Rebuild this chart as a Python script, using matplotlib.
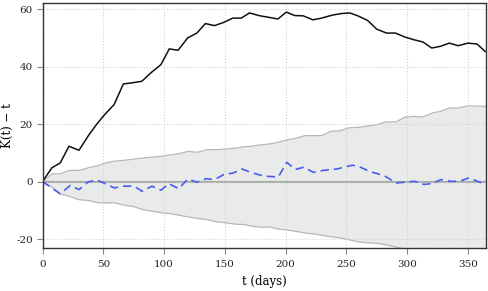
import matplotlib
matplotlib.use('Agg')
import matplotlib.pyplot as plt

# observed curve K(t) - t
obs_t = [0, 7.7, 14.6, 21.7, 30, 38.2, 45, 51.5, 58.9, 66.5, 74, 81.7, 89, 97.4, 104.3,
         111.5, 119.4, 127, 134, 141.5, 149, 156.5, 163.5, 170.3, 179, 186, 193.7, 200.6,
         207.5, 214.5, 222.5, 229.5, 239, 246, 252.8, 259.5, 267.5, 274.9, 283, 290.5,
         298.3, 305.5, 313, 320.3, 327.5, 334.8, 342, 350, 357.5, 364.3]
obs_v = [0, 4.8, 6.5, 12.3, 10.9, 16.3, 20.2, 23.5, 26.8, 34.0, 34.4, 34.9, 37.8, 40.7, 46.2,
         45.7, 50.0, 51.7, 55.0, 54.3, 55.4, 56.9, 56.9, 58.7, 57.7, 57.2, 56.6, 59.0,
         57.8, 57.7, 56.3, 56.9, 58.0, 58.5, 58.7, 57.7, 56.1, 53.1, 51.7, 51.7,
         50.3, 49.4, 48.6, 46.5, 47.1, 48.2, 47.3, 48.2, 47.9, 45.3]

# simulated mean
sim_t = [0, 7.5, 14.6, 22.9, 30, 37.6, 45, 52, 59, 67, 75.4, 82, 90, 97.5, 104, 112,
         119.5, 127, 134.5, 141.5, 149, 157, 164, 173, 182, 194, 201, 208, 215, 223, 231,
         242.5, 255, 260, 270, 281, 291, 306, 314, 320, 328, 336, 343, 351, 358, 365]
sim_v = [0, -2.2, -4.3, -1.3, -2.8, -0.1, 0.5, -0.8, -2.2, -1.6, -1.6, -3.4, -1.6, -3.0, -0.7,
         -2.5, 0.9, -0.2, 1.0, 0.7, 2.4, 3.0, 4.4, 3.0, 1.9, 1.6, 6.7, 4.2, 5.0, 3.2, 3.9,
         4.4, 5.7, 5.3, 3.4, 2.1, -0.5, 0.1, -1.0, -0.7, 0.7, 0.1, 0.1, 1.3, 0.1, -1.0]

# envelope
env_t = [0, 8, 14.6, 22, 30, 38, 46, 52, 59, 67, 75, 82, 90, 98.5, 104, 112, 120, 128,
         135, 143, 150, 160, 165, 172, 180, 187, 194, 202, 208, 216, 223, 230, 237, 245,
         252, 260, 267, 275, 283, 291, 298, 305, 313, 321, 328, 335, 342, 350, 357, 365]
env_hi = [0, 2.7, 2.7, 3.9, 3.9, 4.8, 5.6, 6.5, 7.1, 7.4, 7.8, 8.2, 8.5, 8.8, 9.2, 9.7, 10.5,
          10.2, 11.1, 11.1, 11.3, 11.7, 12.1, 12.3, 12.8, 13.1, 13.7, 14.6, 15.0, 16.0, 16.0,
          16.0, 17.5, 17.7, 18.7, 18.9, 19.3, 19.8, 20.8, 20.8, 22.4, 22.7, 22.5, 23.9, 24.5,
          25.6, 25.6, 26.4, 26.3, 26.2]
env_lo = [0, -2.0, -4.3, -5.1, -6.3, -6.6, -7.4, -7.4, -7.4, -8.2, -8.7, -9.7, -10.3, -10.9,
          -11.1, -11.7, -12.3, -12.9, -13.2, -14.0, -14.3, -14.9, -14.9, -15.5, -15.9, -15.8,
          -16.5, -16.9, -17.3, -17.9, -18.2, -18.7, -19.2, -19.6, -20.2, -21.0, -21.3, -21.5,
          -22.0, -22.8, -23.4, -23.8, -24.3, -24.6, -25.0, -25.4, -25.7, -26.0, -26.3, -26.5]

x_ticks = [0, 50, 100, 150, 200, 250, 300, 350]
y_ticks = [-20, 0, 20, 40, 60]

plt.rcParams['font.family'] = ['DejaVu Serif']
plt.rcParams['font.size'] = 7.5
plt.rcParams['axes.unicode_minus'] = False

fig = plt.figure(figsize=(4.89, 2.91), dpi=100)
ax = fig.add_axes([0.087, 0.149, 0.907, 0.841])

ax.fill_between(env_t, env_lo, env_hi, color='#dfe3e1', alpha=0.7, lw=0, zorder=1)
ax.plot(env_t, env_hi, color='#b4b9b7', lw=0.9, zorder=2)
ax.plot(env_t, env_lo, color='#b4b9b7', lw=0.9, zorder=2)
ax.axhline(0, color='#a3a8a6', lw=1.5, zorder=2)
ax.plot(obs_t, obs_v, color='#111111', lw=1.1, zorder=4)
ax.plot(sim_t, sim_v, color='#4a5cf0', lw=1.2, ls=(0, (5, 3)), zorder=4)

ax.set_xlim(0, 365)
ax.set_ylim(-23, 62.2)
ax.set_xticks(x_ticks)
ax.set_yticks(y_ticks)
ax.grid(True, color='#d2d2d2', ls=':', lw=0.8, zorder=3)
ax.set_axisbelow(False)
ax.tick_params(direction='out', length=4, width=0.8, pad=3, color='#888888', labelcolor='#222222')
ax.tick_params(axis='x', pad=5)
for s in ax.spines.values():
    s.set_linewidth(1.0)
    s.set_color('#333333')
    s.set_zorder(5)

ax.set_xlabel('t (days)', fontsize=8.5, labelpad=4)
ax.set_ylabel('K(t) \u2212 t', fontsize=8.5)
ax.yaxis.set_label_coords(-0.064, 0.5)

plt.savefig('out.png', dpi=100)
